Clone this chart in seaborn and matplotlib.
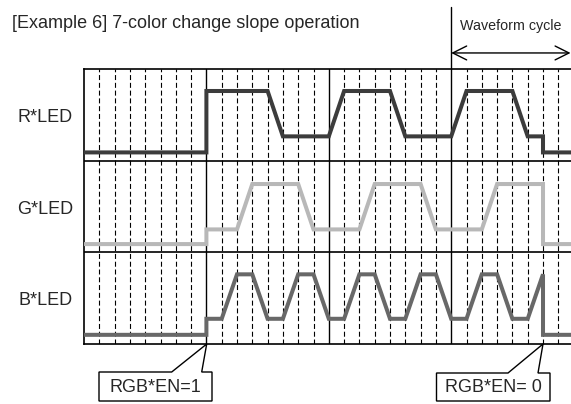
import matplotlib.pyplot as plt
import seaborn as sns
from matplotlib.patches import Polygon

# time in grid steps (one dashed division), level as fraction of the row height
r_time = [0, 8, 8, 12, 13, 16, 17, 20, 21, 24, 25, 28, 29, 30, 30, 32]
r_level = [0.09, 0.09, 0.76, 0.76, 0.265, 0.265, 0.76, 0.76, 0.265, 0.265,
           0.76, 0.76, 0.265, 0.265, 0.09, 0.09]

g_time = [0, 8, 8, 10, 11, 14, 15, 18, 19, 22, 23, 26, 27, 30, 30, 32]
g_level = [0.09, 0.09, 0.25, 0.25, 0.745, 0.745, 0.25, 0.25, 0.745, 0.745,
           0.25, 0.25, 0.745, 0.745, 0.09, 0.09]

b_time = [0, 8, 8, 9, 10, 11, 12, 13, 14, 15, 16, 17, 18, 19, 20, 21, 22, 23,
          24, 25, 26, 27, 28, 29, 30, 30, 32]
b_level = [0.10, 0.10, 0.275, 0.275, 0.76, 0.76, 0.275, 0.275, 0.76, 0.76,
           0.275, 0.275, 0.76, 0.76, 0.275, 0.275, 0.76, 0.76, 0.275, 0.275,
           0.76, 0.76, 0.275, 0.275, 0.76, 0.10, 0.10]

channels = ['R*LED', 'G*LED', 'B*LED']
colors = ['#3c3c3c', '#b8b8b8', '#686868']
title = '[Example 6] 7-color change slope operation'
cycle_label = 'Waveform cycle'
en_labels = ['RGB*EN=1', 'RGB*EN= 0']

W, H = 571, 404


def fx(x, y):
    # pixel position -> figure fraction
    return x / W, 1 - y / H


sns.set_theme(style='white')
plt.rcParams['font.family'] = ['Liberation Sans', 'DejaVu Sans']

fig = plt.figure(figsize=(W / 100, H / 100), dpi=100)
ax = fig.add_axes([84 / W, 60 / H, 487 / W, 275 / H])
ax.set_xlim(0, 31.83)
ax.set_ylim(0, 3)

# grid: dashed per step, solid every 8 steps
for i in range(1, 32):
    if i % 8 == 0:
        ax.axvline(i, color='black', lw=1.0, zorder=1)
    else:
        ax.axvline(i, color='black', lw=0.8, ls=(0, (4.5, 2.5)), zorder=1)
for yb in [1, 2]:
    ax.axhline(yb, color='black', lw=1.2, zorder=1)

for k, (t, lv) in enumerate([(r_time, r_level), (g_time, g_level), (b_time, b_level)]):
    base = 2 - k
    sns.lineplot(x=t, y=[v + base for v in lv], ax=ax, sort=False, estimator=None,
                 color=colors[k], lw=2.9, zorder=3,
                 solid_joinstyle='miter', solid_capstyle='butt')
    ax.text(-0.72, base + 0.47, channels[k], ha='right', va='center', fontsize=13)

ax.set_xticks([])
ax.set_yticks([])
for s in ['left', 'top', 'bottom']:
    ax.spines[s].set_color('black')
    ax.spines[s].set_linewidth(1.2)
ax.spines['right'].set_visible(False)

# waveform cycle marker
ax.plot([24, 24], [3, 3.68], color='black', lw=1.0, clip_on=False)
ax.annotate('', xy=(31.8, 3.175), xytext=(24, 3.175), annotation_clip=False,
            arrowprops=dict(arrowstyle='<->,head_length=1.0,head_width=0.5',
                            mutation_scale=10, lw=1.0, color='black',
                            shrinkA=0, shrinkB=0))
fig.text(*fx(460, 26), cycle_label, ha='left', va='center', fontsize=10.3)

fig.text(*fx(12, 24), title, ha='left', va='center', fontsize=13)

# callout boxes
callouts = [
    dict(box=(99, 372, 212, 401), gap=(171.7, 201.7), tip=(206.7, 344), label=en_labels[0]),
    dict(box=(436.5, 373, 550, 401), gap=(508, 538), tip=(543, 344), label=en_labels[1]),
]
for c in callouts:
    x0, y0, x1, y1 = c['box']
    g0, g1 = c['gap']
    pts = [(g1, y0), (x1, y0), (x1, y1), (x0, y1), (x0, y0), (g0, y0), c['tip'], (g1, y0)]
    poly = Polygon([fx(*p) for p in pts], closed=True, transform=fig.transFigure,
                   fc='white', ec='black', lw=1.0, joinstyle='miter')
    fig.add_artist(poly)
    fig.text(*fx((x0 + x1) / 2, (y0 + y1) / 2 + 1), c['label'], ha='center', va='center', fontsize=13)

fig.savefig('out.png', dpi=100)
